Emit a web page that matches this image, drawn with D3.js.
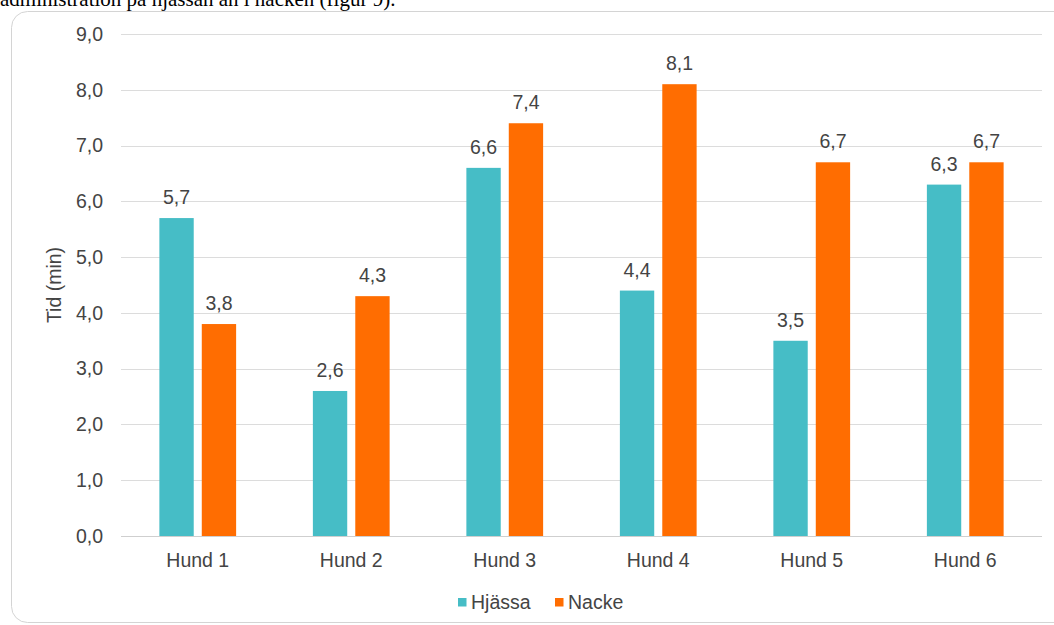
<!DOCTYPE html>
<html>
<head>
<meta charset="utf-8">
<script src="https://cdn.jsdelivr.net/npm/d3@7"></script>
<style>
  body { margin: 0; background: #fff; }
  svg { display: block; }
</style>
</head>
<body>
<svg id="chart" width="1054" height="625"></svg>
<script>
// data
const dogs = ["Hund 1", "Hund 2", "Hund 3", "Hund 4", "Hund 5", "Hund 6"];
const series = ["Hjässa", "Nacke"];
const hjassa = [5.7, 2.6, 6.6, 4.4, 3.5, 6.3];
const nacke = [3.8, 4.3, 7.4, 8.1, 6.7, 6.7];
const yTicks = [0, 1, 2, 3, 4, 5, 6, 7, 8, 9];

const colors = ["#46bdc6", "#ff6d01"];
const fontFamily = "'Liberation Sans', Arial, sans-serif";
const fontSize = 19.5;
const textColor = "#444";

const svg = d3.select("#chart");

// bit of the document text above the chart, cut off by the frame
svg.append("text")
  .attr("x", 0).attr("y", 6)
  .attr("font-family", "'Liberation Serif', 'Times New Roman', serif")
  .attr("font-size", 21)
  .attr("fill", "#000")
  .text("administration på hjässan än i nacken (figur 9).");

// chart frame
svg.append("rect")
  .attr("x", 11.5).attr("y", 11.5)
  .attr("width", 1060).attr("height", 611)
  .attr("rx", 16)
  .attr("fill", "#fff")
  .attr("stroke", "#d4d4d4");

const margin = {left: 121, right: 12, top: 34, bottom: 89};
const width = 1054 - margin.left - margin.right;
const height = 625 - margin.top - margin.bottom;

const g = svg.append("g").attr("transform", `translate(${margin.left},${margin.top})`);

const x0 = d3.scaleBand().domain(dogs).range([0, width]).paddingInner(0.5).paddingOuter(0.25);
const x1 = d3.scaleBand().domain(series).range([0, x0.bandwidth()]).paddingInner(0.19);
const y = d3.scaleLinear().domain([0, 9]).range([height, 0]);

// gridlines
g.append("g")
  .selectAll("line")
  .data(yTicks)
  .join("line")
    .attr("x1", 0).attr("x2", width)
    .attr("y1", d => Math.round(y(d)) + 0.5)
    .attr("y2", d => Math.round(y(d)) + 0.5)
    .attr("stroke", d => d === 0 ? "#cfcfcf" : "#dcdcdc");

// y axis labels
const yAxis = g.append("g")
  .call(d3.axisLeft(y).tickValues(yTicks).tickSize(0).tickPadding(18)
    .tickFormat(d => d3.format(".1f")(d).replace(".", ",")));
yAxis.select(".domain").remove();
yAxis.selectAll("text")
  .attr("font-family", fontFamily).attr("font-size", fontSize).attr("fill", textColor);

// x axis labels
const xAxis = g.append("g")
  .attr("transform", `translate(0,${height})`)
  .call(d3.axisBottom(x0).tickSize(0).tickPadding(17));
xAxis.select(".domain").remove();
xAxis.selectAll("text")
  .attr("font-family", fontFamily).attr("font-size", fontSize).attr("fill", textColor);

// y title
svg.append("text")
  .attr("transform", `translate(61,${margin.top + height / 2}) rotate(-90)`)
  .attr("text-anchor", "middle")
  .attr("font-family", fontFamily).attr("font-size", fontSize).attr("fill", textColor)
  .text("Tid (min)");

// bars
const rows = dogs.map((d, i) => ({dog: d, values: [hjassa[i], nacke[i]]}));

const group = g.selectAll(".grp")
  .data(rows)
  .join("g")
    .attr("class", "grp")
    .attr("transform", d => `translate(${x0(d.dog)},0)`);

group.selectAll("rect")
  .data(d => d.values.map((v, i) => ({key: series[i], value: v, c: colors[i]})))
  .join("rect")
    .attr("x", d => x1(d.key))
    .attr("width", x1.bandwidth())
    .attr("y", d => y(d.value))
    .attr("height", d => height - y(d.value))
    .attr("fill", d => d.c);

group.selectAll(".lbl")
  .data(d => d.values.map((v, i) => ({key: series[i], value: v})))
  .join("text")
    .attr("class", "lbl")
    .attr("x", d => x1(d.key) + x1.bandwidth() / 2)
    .attr("y", d => y(d.value) - 14)
    .attr("text-anchor", "middle")
    .attr("font-family", fontFamily).attr("font-size", fontSize).attr("fill", textColor)
    .text(d => d3.format(".1f")(d.value).replace(".", ","));

// legend
const legend = svg.append("g").attr("transform", "translate(458,602)");
const items = legend.selectAll("g")
  .data(series)
  .join("g")
    .attr("transform", (d, i) => `translate(${i * 97},0)`);
items.append("rect")
  .attr("x", 0).attr("y", -4).attr("width", 8.5).attr("height", 8.5)
  .attr("fill", (d, i) => colors[i]);
items.append("text")
  .attr("x", 13).attr("y", 7)
  .attr("font-family", fontFamily).attr("font-size", fontSize).attr("fill", textColor)
  .text(d => d);
</script>
</body>
</html>
